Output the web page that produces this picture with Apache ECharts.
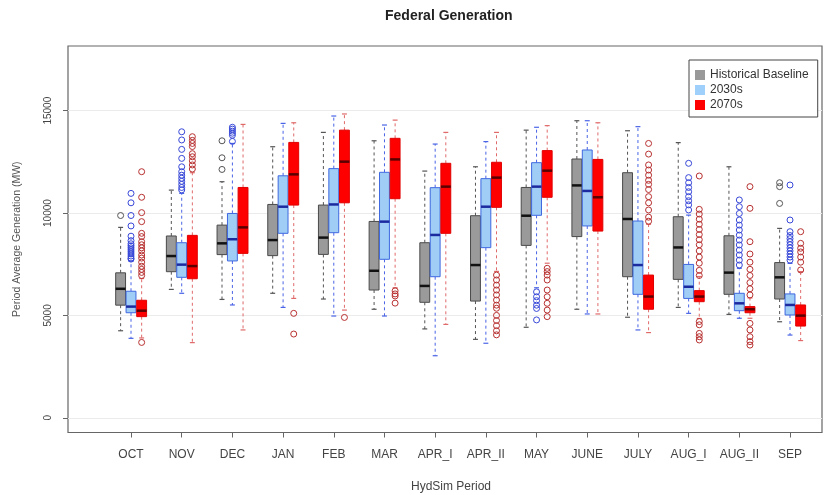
<!DOCTYPE html>
<html><head><meta charset="utf-8">
<script src="https://cdn.jsdelivr.net/npm/echarts@6/dist/echarts.min.js"></script>
<style>html,body{margin:0;padding:0;background:#fff}#c{width:825px;height:495px}</style>
</head><body><div id="c"></div>
<script>
const categories = ['OCT','NOV','DEC','JAN','FEB','MAR','APR_I','APR_II','MAY','JUNE','JULY','AUG_I','AUG_II','SEP'];
const yTicks = [0, 5000, 10000, 15000];

// [lower whisker, Q1, median, Q3, upper whisker]
const historicalBox = [
  [4250, 5500, 6300, 7080, 9300],
  [6270, 7135, 7900, 8880, 11120],
  [5780, 7970, 8520, 9410, 11530],
  [6080, 7920, 8680, 10420, 13240],
  [5800, 7980, 8800, 10390, 13940],
  [5300, 6240, 7180, 9590, 13530],
  [4340, 5640, 6440, 8550, 12050],
  [3830, 5700, 7460, 9870, 12260],
  [4420, 8420, 9870, 11250, 14050],
  [5300, 8850, 11350, 12640, 14510],
  [4910, 6890, 9710, 11970, 14020],
  [5390, 6760, 8320, 9820, 13440],
  [5050, 6030, 7090, 8890, 12260],
  [4690, 5800, 6860, 7580, 9250]
];
const s2030Box = [
  [3880, 5130, 5430, 6180, 7650],
  [6080, 6860, 7480, 8550, 10960],
  [5510, 7660, 8720, 9980, 13400],
  [5390, 9010, 10310, 11820, 14380],
  [4970, 9040, 10420, 12170, 14740],
  [4970, 7740, 9580, 11990, 14300],
  [3030, 6890, 8930, 11240, 13370],
  [3640, 8310, 10310, 11680, 13490],
  [6350, 9890, 11290, 12460, 14190],
  [5070, 9370, 11080, 13080, 14510],
  [4290, 6030, 7460, 9610, 14220],
  [5100, 5830, 6400, 7490, 9900],
  [4860, 5230, 5590, 6080, 7300],
  [4040, 5020, 5510, 6050, 7540]
];
const s2070Box = [
  [3900, 4940, 5230, 5740, 6800],
  [3670, 6790, 7410, 8910, 11970],
  [4290, 8030, 9300, 11250, 14330],
  [5830, 10390, 11890, 13450, 14410],
  [5260, 10500, 12510, 14050, 14840],
  [6350, 10700, 12620, 13650, 14540],
  [4560, 9010, 11290, 12430, 13940],
  [7150, 10280, 11730, 12480, 13940],
  [7550, 10770, 12070, 13050, 14270],
  [5070, 9120, 10770, 12620, 14410],
  [4160, 5300, 5920, 6970, 9450],
  [4850, 5670, 5920, 6210, 6900],
  [4860, 5130, 5300, 5430, 5850],
  [3770, 4480, 4990, 5510, 7140]
];

const historicalOut = [
  [9880], [], [13530, 12700, 12130], [], [], [], [], [], [], [], [], [], [],
  [11480, 11290, 10470]
];
const s2030Out = [
  [10960, 10500, 9880, 9370, 8870, 8650, 8500, 8400, 8300, 8200, 8100, 8000, 7900, 7800, 7750],
  [13970, 13570, 13110, 12670, 12260, 12020, 11850, 11700, 11550, 11400, 11250, 11130],
  [14190, 14100, 14000, 13900, 13800, 13500],
  [], [], [], [], [],
  [6150, 5910, 5720, 5500, 5340, 4780],
  [], [],
  [12430, 11730, 11480, 11250, 11040, 10800, 10600, 10400, 10150],
  [10640, 10310, 9980, 9660, 9410, 9170, 8920, 8680, 8440, 8190, 7950, 7700, 7460],
  [11370, 9660, 9090, 8900, 8750, 8600, 8450, 8300, 8150, 8000, 7850, 7700]
];
const s2070Out = [
  [12020, 10770, 10020, 9580, 9010, 8850, 8600, 8450, 8300, 8150, 7950, 7800, 7600, 7400, 7250, 7100, 6950, 3680],
  [13730, 13550, 13400, 13250, 12900, 12750, 12550, 12350, 12150],
  [],
  [5100, 4090],
  [4900],
  [6200, 6050, 5950, 5600],
  [],
  [6970, 6730, 6480, 6240, 6000, 5750, 5500, 5350, 5000, 4750, 4500, 4250, 4050],
  [7300, 7140, 6970, 6730, 6240, 5910, 5590, 5260, 4940],
  [],
  [13400, 12880, 12350, 12100, 11850, 11600, 11400, 11150, 10800, 10500, 10150, 9800, 9600],
  [11810, 10180, 9950, 9700, 9450, 9200, 8950, 8700, 8450, 8150, 7850, 7550, 7200, 6950, 4700, 4540, 4120, 3960, 3800],
  [11290, 10230, 8600, 8000, 7600, 7250, 6950, 6600, 6300, 6000, 4610, 4290, 3960, 3720, 3550],
  [9090, 8520, 8280, 8100, 7850, 7600, 7220]
];

const FONT = 'Liberation Sans, Arial, Helvetica, sans-serif';
const BOX_W = 0.195;
const groups = [
  { name: 'Historical Baseline', box: historicalBox, out: historicalOut, offset: -0.205,
    fill: '#9a9a9a', stroke: '#4a4a4a', median: '#111111', whisker: '#555555', out_c: '#555555', legend: '#999999' },
  { name: '2030s', box: s2030Box, out: s2030Out, offset: 0,
    fill: '#9fcdf6', stroke: '#3f68e0', median: '#1c2aa0', whisker: '#4a64e6', out_c: '#3848d8', legend: '#9fd0fb' },
  { name: '2070s', box: s2070Box, out: s2070Out, offset: 0.21,
    fill: '#ff0000', stroke: '#e00000', median: '#5a0000', whisker: '#e06a6a', out_c: '#b83030', legend: '#ff0000' }
];

function makeRender(g) {
  return function (params, api) {
    const x = api.value(0) + g.offset;
    const pLow = api.coord([x, api.value(1)]);
    const pQ1 = api.coord([x, api.value(2)]);
    const pMed = api.coord([x, api.value(3)]);
    const pQ3 = api.coord([x, api.value(4)]);
    const pHigh = api.coord([x, api.value(5)]);
    const w = api.size([BOX_W, 0])[0];
    const cx = pMed[0];
    const cap = w / 4;
    return {
      type: 'group',
      children: [
        { type: 'line', shape: { x1: cx, y1: pQ3[1], x2: cx, y2: pHigh[1] },
          style: { stroke: g.whisker, lineWidth: 1, lineDash: [3, 3] } },
        { type: 'line', shape: { x1: cx, y1: pQ1[1], x2: cx, y2: pLow[1] },
          style: { stroke: g.whisker, lineWidth: 1, lineDash: [3, 3] } },
        { type: 'line', shape: { x1: cx - cap, y1: pHigh[1], x2: cx + cap, y2: pHigh[1] },
          style: { stroke: g.whisker, lineWidth: 1.2 } },
        { type: 'line', shape: { x1: cx - cap, y1: pLow[1], x2: cx + cap, y2: pLow[1] },
          style: { stroke: g.whisker, lineWidth: 1.2 } },
        { type: 'rect', shape: { x: cx - w / 2, y: pQ3[1], width: w, height: pQ1[1] - pQ3[1] },
          style: { fill: g.fill, stroke: g.stroke, lineWidth: 1 } },
        { type: 'line', shape: { x1: cx - w / 2, y1: pMed[1], x2: cx + w / 2, y2: pMed[1] },
          style: { stroke: g.median, lineWidth: 2.5 } }
      ]
    };
  };
}

const series = [];
groups.forEach(function (g) {
  series.push({
    name: g.name,
    type: 'custom',
    renderItem: makeRender(g),
    encode: { x: 0, y: [1, 2, 3, 4, 5] },
    itemStyle: { color: g.legend },
    data: g.box.map(function (b, i) { return [i + 1].concat(b); }),
    z: 2
  });
});
groups.forEach(function (g) {
  const pts = [];
  g.out.forEach(function (arr, i) { arr.forEach(function (v) { pts.push([i + 1 + g.offset, v]); }); });
  series.push({
    name: g.name + ' outliers',
    type: 'scatter',
    symbol: 'circle',
    symbolSize: 6,
    itemStyle: { color: 'rgba(0,0,0,0)', borderColor: g.out_c, borderWidth: 1, opacity: 1 },
    data: pts,
    z: 3
  });
});

const chart = echarts.init(document.getElementById('c'), null, { renderer: 'canvas' });
chart.setOption({
  animation: false,
  backgroundColor: '#ffffff',
  title: {
    text: 'Federal Generation',
    left: 385, top: 9, padding: 0,
    textStyle: { fontFamily: FONT, fontSize: 14, fontWeight: 'bold', color: '#222' }
  },
  legend: {
    orient: 'vertical',
    left: 689, top: 60,
    padding: [9, 9, 6, 6],
    backgroundColor: '#fff',
    borderColor: '#444', borderWidth: 1,
    itemWidth: 10, itemHeight: 10, itemGap: 3,
    icon: 'rect',
    selectedMode: false,
    textStyle: { fontFamily: FONT, fontSize: 12, color: '#333', lineHeight: 12 },
    data: groups.map(function (g) { return { name: g.name, itemStyle: { color: g.legend, borderWidth: 0 } }; })
  },
  grid: {
    left: 68, right: 3, top: 46, bottom: 62.5,
    outerBoundsMode: 'none', containLabel: false,
    show: true, borderColor: '#666', borderWidth: 1.2, backgroundColor: 'transparent'
  },
  xAxis: {
    type: 'value',
    min: -0.243, max: 14.631,
    name: 'HydSim Period',
    nameLocation: 'middle', nameGap: 48,
    nameTextStyle: { fontFamily: FONT, fontSize: 12, color: '#444', padding: [0, 0, 0, 12] },
    axisLine: { show: false, onZero: false },
    axisTick: { show: true, length: 5, lineStyle: { color: '#666' }, customValues: categories.map(function (c, i) { return i + 1; }) },
    axisLabel: { fontFamily: FONT, fontSize: 12, color: '#444', margin: 16,
      customValues: categories.map(function (c, i) { return i + 1; }),
      formatter: function (v) { return categories[Math.round(v) - 1] || ''; } },
    splitLine: { show: false }
  },
  yAxis: {
    type: 'value',
    min: -720, max: 18160,
    name: 'Period Average Generation (MW)',
    nameLocation: 'middle', nameGap: 45, nameRotate: 90,
    nameTextStyle: { fontFamily: FONT, fontSize: 10.5, color: '#555' },
    axisLine: { show: false, onZero: false },
    axisTick: { show: true, length: 5, lineStyle: { color: '#666' }, customValues: yTicks },
    axisLabel: { fontFamily: FONT, fontSize: 10, color: '#444', rotate: 90, margin: 15, customValues: yTicks,
      formatter: function (v) { return String(v); } },
    splitLine: { show: true, lineStyle: { color: '#ebebeb', width: 1 } }
  },
  series: series
});
</script></body></html>
